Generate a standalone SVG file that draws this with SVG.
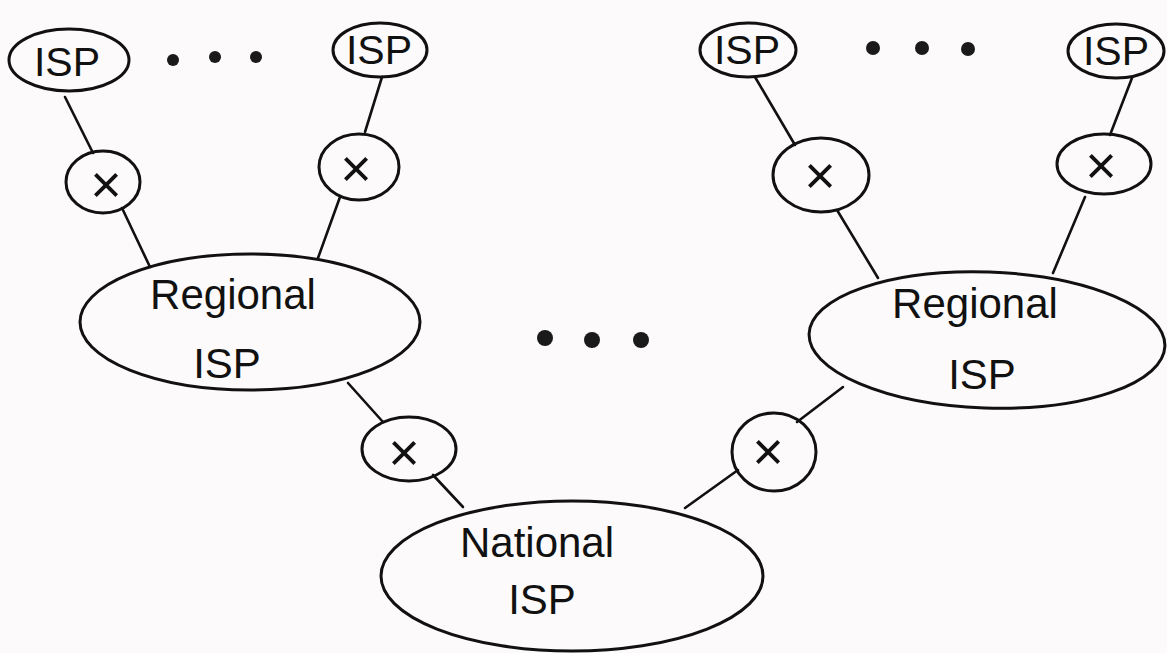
<svg xmlns="http://www.w3.org/2000/svg" width="1167" height="653" viewBox="0 0 1167 653">
  <style>
    .shape { fill: none; stroke: #111; stroke-width: 3; }
    .link { stroke: #111; stroke-width: 2.6; stroke-linecap: round; fill: none; }
    .lbl { font-family: "Liberation Sans", "DejaVu Sans", sans-serif; fill: #111; text-anchor: middle; }
    .isp { font-size: 41px; }
    .big { font-size: 42px; }
    .cross { font-size: 54px; }
    .dot { fill: #1a1a1a; }
  </style>
  <rect width="1167" height="653" fill="#fcfafa"/>

  <!-- connectors -->
  <g id="connectors">
    <line class="link" x1="65" y1="97" x2="93" y2="153"/>
    <line class="link" x1="122" y1="208" x2="150" y2="267"/>
    <line class="link" x1="382" y1="77" x2="365" y2="132"/>
    <line class="link" x1="340" y1="197" x2="318" y2="258"/>
    <line class="link" x1="755" y1="77" x2="795" y2="145"/>
    <line class="link" x1="837" y1="210" x2="878" y2="278"/>
    <line class="link" x1="1132" y1="78" x2="1110" y2="135"/>
    <line class="link" x1="1085" y1="197" x2="1053" y2="273"/>
    <line class="link" x1="348" y1="383" x2="383" y2="422"/>
    <line class="link" x1="433" y1="475" x2="463" y2="507"/>
    <line class="link" x1="843" y1="387" x2="797" y2="422"/>
    <line class="link" x1="738" y1="470" x2="685" y2="508"/>
  </g>

  <!-- ellipsis dots -->
  <g id="dots">
    <circle class="dot" cx="173" cy="60" r="6"/>
    <circle class="dot" cx="215" cy="57" r="6"/>
    <circle class="dot" cx="256" cy="57" r="6"/>
    <circle class="dot" cx="873" cy="48" r="7"/>
    <circle class="dot" cx="922" cy="48" r="7"/>
    <circle class="dot" cx="968" cy="49" r="7"/>
    <circle class="dot" cx="545" cy="338" r="8"/>
    <circle class="dot" cx="592" cy="340" r="8"/>
    <circle class="dot" cx="641" cy="340" r="8"/>
  </g>

  <!-- access ISPs -->
  <g id="isp-1">
    <ellipse class="shape" cx="69" cy="60" rx="60" ry="31"/>
    <text class="lbl isp" x="67" y="76">ISP</text>
  </g>
  <g id="isp-2">
    <ellipse class="shape" cx="380" cy="50" rx="47" ry="27"/>
    <text class="lbl isp" x="379" y="64">ISP</text>
  </g>
  <g id="isp-3">
    <ellipse class="shape" cx="748" cy="50" rx="48" ry="27"/>
    <text class="lbl isp" x="747" y="64">ISP</text>
  </g>
  <g id="isp-4">
    <ellipse class="shape" cx="1116" cy="51" rx="48" ry="27"/>
    <text class="lbl isp" x="1116" y="65">ISP</text>
  </g>

  <!-- exchange points -->
  <g id="x-1">
    <ellipse class="shape" cx="103" cy="182" rx="37" ry="31"/>
    <text class="lbl cross" x="106" y="203">×</text>
  </g>
  <g id="x-2">
    <ellipse class="shape" cx="359" cy="167" rx="40" ry="33"/>
    <text class="lbl cross" x="356" y="187">×</text>
  </g>
  <g id="x-3">
    <ellipse class="shape" cx="821" cy="175" rx="48" ry="37"/>
    <text class="lbl cross" x="820" y="194">×</text>
  </g>
  <g id="x-4">
    <ellipse class="shape" cx="1104" cy="164" rx="47" ry="30"/>
    <text class="lbl cross" x="1101" y="184">×</text>
  </g>
  <g id="x-5">
    <ellipse class="shape" cx="409" cy="449" rx="47" ry="32"/>
    <text class="lbl cross" x="404" y="471">×</text>
  </g>
  <g id="x-6">
    <ellipse class="shape" cx="774" cy="452" rx="42" ry="39"/>
    <text class="lbl cross" x="768" y="470">×</text>
  </g>

  <!-- regional ISPs -->
  <g id="regional-left">
    <ellipse class="shape" cx="250" cy="322" rx="170" ry="68"/>
    <text class="lbl big" x="233" y="309">Regional</text>
    <text class="lbl big" x="227" y="378">ISP</text>
  </g>
  <g id="regional-right">
    <ellipse class="shape" cx="987" cy="340" rx="178" ry="68" transform="rotate(2 987 340)"/>
    <text class="lbl big" x="975" y="318">Regional</text>
    <text class="lbl big" x="982" y="389">ISP</text>
  </g>

  <!-- national ISP -->
  <g id="national">
    <ellipse class="shape" cx="572" cy="576" rx="191" ry="75"/>
    <text class="lbl big" x="537" y="557">National</text>
    <text class="lbl big" x="542" y="614">ISP</text>
  </g>
</svg>
